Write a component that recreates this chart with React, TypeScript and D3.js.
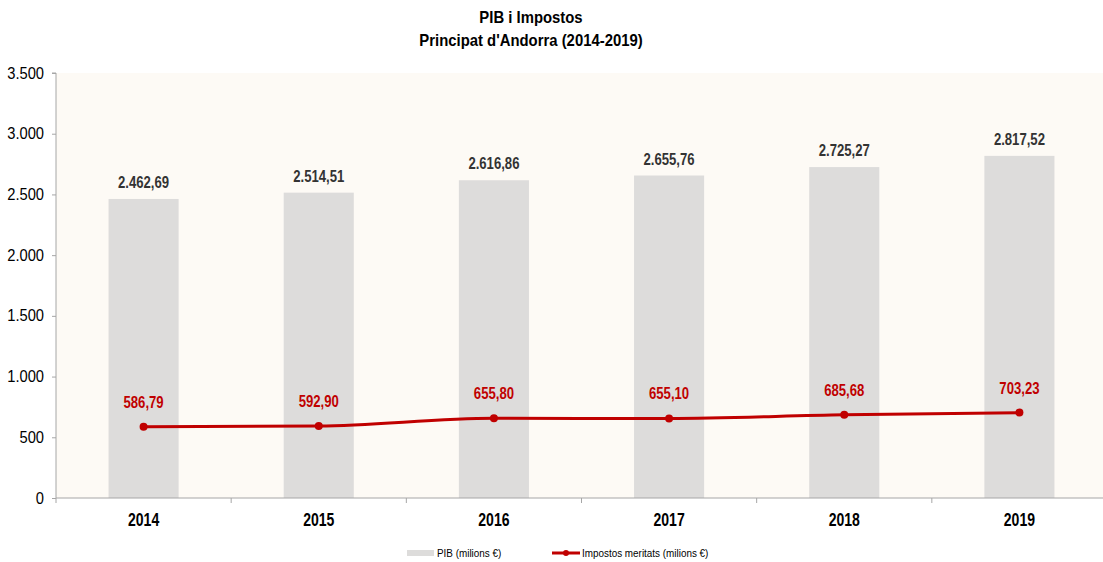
import React, { useEffect, useRef } from 'react';
import * as d3 from 'd3';

const years = ['2014', '2015', '2016', '2017', '2018', '2019'];
const pib = [2462.69, 2514.51, 2616.86, 2655.76, 2725.27, 2817.52];
const impostos = [586.79, 592.9, 655.8, 655.1, 685.68, 703.23];
const yTicks = [0, 500, 1000, 1500, 2000, 2500, 3000, 3500];

const FONT = '"Liberation Sans", Arial, sans-serif';
const RED = '#C00000';

const fmt = (v: number) => {
  const s = v.toFixed(2).replace('.', ',');
  const [a, b] = s.split(',');
  return a.replace(/\B(?=(\d{3})+(?!\d))/g, '.') + ',' + b;
};
const fmtTick = (v: number) => String(v).replace(/\B(?=(\d{3})+(?!\d))/g, '.');

export default function App() {
  const ref = useRef<SVGSVGElement>(null);

  useEffect(() => {
    const svg = d3.select(ref.current);
    svg.selectAll('*').remove();
    const width = 1103, height = 562;
    const margin = { left: 56, top: 73, right: -4, bottom: 64 };
    const plotW = width - margin.left - margin.right;
    const plotH = height - margin.top - margin.bottom;

    const x = d3.scaleBand().domain(years).range([0, plotW]).paddingInner(0.6).paddingOuter(0.3);
    const xb = d3.scaleBand().domain(years).range([0, plotW]);
    const y = d3.scaleLinear().domain([0, 3500]).range([plotH, 0]);

    // narrow-looking text: Arial Narrow is not installed, so squeeze horizontally
    const squeeze = (sx: number) => (px: number, py: number) => `translate(${px},${py}) scale(${sx},1)`;

    // title
    const title = svg.append('g').attr('font-family', FONT).attr('font-weight', 'bold')
      .attr('font-size', 16).attr('text-anchor', 'middle').attr('fill', '#000');
    const tt = squeeze(0.93);
    title.append('text').attr('transform', tt(531, 23)).text('PIB i Impostos');
    title.append('text').attr('transform', tt(531, 46)).text("Principat d'Andorra (2014-2019)");

    const g = svg.append('g').attr('transform', `translate(${margin.left},${margin.top})`);
    g.append('rect').attr('width', plotW).attr('height', plotH).attr('fill', '#FDFAF5');

    g.selectAll('rect.bar').data(pib).enter().append('rect').attr('class', 'bar')
      .attr('x', (d, i) => x(years[i])!)
      .attr('width', x.bandwidth())
      .attr('y', d => y(d))
      .attr('height', d => plotH - y(d))
      .attr('fill', '#DDDCDB');

    const lab = squeeze(0.82);
    g.selectAll('text.barlab').data(pib).enter().append('text').attr('class', 'barlab')
      .attr('transform', (d, i) => lab(x(years[i])! + x.bandwidth() / 2, y(d) - 11))
      .attr('text-anchor', 'middle').attr('font-family', FONT).attr('font-weight', 'bold')
      .attr('font-size', 16).attr('fill', '#333')
      .text(d => fmt(d));

    // y axis
    const ya = g.append('g').call(d3.axisLeft(y).tickValues(yTicks).tickSize(4).tickFormat(d => fmtTick(+d)));
    ya.select('.domain').attr('stroke', '#A6A6A6').attr('d', `M-4,0H0V${plotH}`);
    ya.selectAll('.tick line').attr('stroke', '#A6A6A6');
    ya.selectAll('.tick text').attr('font-family', FONT).attr('font-size', 16).attr('fill', '#000')
      .attr('x', 0).attr('transform', 'translate(-12,0) scale(0.92,1)');

    // x axis
    const xg = g.append('g').attr('transform', `translate(0,${plotH})`);
    xg.append('line').attr('x1', 0).attr('x2', plotW).attr('stroke', '#A6A6A6');
    xg.selectAll('line.tk').data(d3.range(years.length + 1)).enter().append('line').attr('class', 'tk')
      .attr('x1', i => i * xb.bandwidth()).attr('x2', i => i * xb.bandwidth())
      .attr('y1', 0).attr('y2', 5).attr('stroke', '#A6A6A6');
    const yl = squeeze(0.78);
    xg.selectAll('text').data(years).enter().append('text')
      .attr('transform', d => yl(xb(d)! + xb.bandwidth() / 2, 28))
      .attr('text-anchor', 'middle').attr('font-family', FONT).attr('font-weight', 'bold')
      .attr('font-size', 18).attr('fill', '#000').text(d => d);

    // line
    const cx = (i: number) => x(years[i])! + x.bandwidth() / 2;
    const line = d3.line<number>().x((d, i) => cx(i)).y(d => y(d)).curve(d3.curveMonotoneX);
    g.append('path').datum(impostos).attr('d', line).attr('fill', 'none')
      .attr('stroke', RED).attr('stroke-width', 3);
    g.selectAll('circle').data(impostos).enter().append('circle')
      .attr('cx', (d, i) => cx(i)).attr('cy', d => y(d)).attr('r', 4).attr('fill', RED);
    g.selectAll('text.linelab').data(impostos).enter().append('text').attr('class', 'linelab')
      .attr('transform', (d, i) => lab(cx(i), y(d) - 19))
      .attr('text-anchor', 'middle').attr('font-family', FONT).attr('font-weight', 'bold')
      .attr('font-size', 16).attr('fill', RED).text(d => fmt(d));

    // legend
    const lg = svg.append('g').attr('font-family', FONT).attr('font-size', 11).attr('fill', '#000');
    const ls = squeeze(0.9);
    lg.append('rect').attr('x', 407).attr('y', 550).attr('width', 27).attr('height', 6).attr('fill', '#DDDCDB');
    lg.append('text').attr('transform', ls(437, 557)).text('PIB (milions €)');
    lg.append('line').attr('x1', 552).attr('x2', 580).attr('y1', 553).attr('y2', 553)
      .attr('stroke', RED).attr('stroke-width', 3);
    lg.append('circle').attr('cx', 566).attr('cy', 553).attr('r', 3).attr('fill', RED);
    lg.append('text').attr('transform', ls(582, 557)).text('Impostos meritats (milions €)');
  }, []);

  return <svg ref={ref} width={1103} height={562} style={{ position: 'absolute', left: 0, top: 0 }} />;
}
